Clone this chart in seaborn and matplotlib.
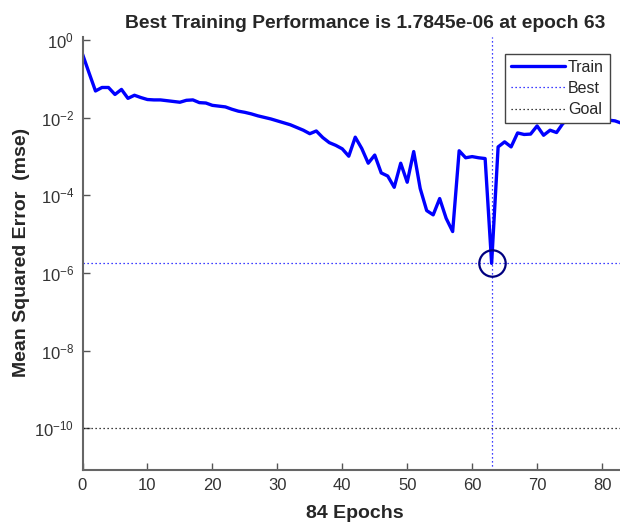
import numpy as np
import pandas as pd
import matplotlib
matplotlib.use("Agg")
import matplotlib.pyplot as plt
import seaborn as sns
from matplotlib.lines import Line2D

# ---- data ----
epochs = list(range(0, 85))
train_log10 = [
    -0.36, -0.84, -1.31, -1.22, -1.22, -1.40, -1.27, -1.50, -1.42, -1.48,
    -1.53, -1.54, -1.54, -1.56, -1.58, -1.60, -1.55, -1.54, -1.61, -1.62,
    -1.68, -1.70, -1.72, -1.78, -1.83, -1.86, -1.90, -1.95, -1.99, -2.03,
    -2.08, -2.13, -2.18, -2.25, -2.32, -2.41, -2.34, -2.51, -2.64, -2.71,
    -2.80, -2.99, -2.50, -2.79, -3.17, -2.96, -3.42, -3.50, -3.79, -3.17,
    -3.66, -2.87, -3.82, -4.39, -4.50, -4.08, -4.59, -4.93, -2.85, -3.03,
    -3.00, -3.03, -3.05, np.log10(1.7845e-06), -2.75, -2.62, -2.75, -2.39, -2.43, -2.42,
    -2.21, -2.45, -2.32, -2.38, -2.14, -2.05, -2.00, -2.02, -2.00, -2.03,
    -2.02, -2.06, -2.08, -2.14, -2.20,
]
train_mse = [10 ** v for v in train_log10]
best_epoch = 63
best_perf = 1.7845e-06
goal = 1e-10
x_ticks = [0, 10, 20, 30, 40, 50, 60, 70, 80]
y_ticks = [1e0, 1e-2, 1e-4, 1e-6, 1e-8, 1e-10]
legend_labels = ["Train", "Best", "Goal"]
title_text = "Best Training Performance is 1.7845e-06 at epoch 63"
xlabel_text = "84 Epochs"
ylabel_text = "Mean Squared Error  (mse)"

df = pd.DataFrame({"epoch": epochs, "mse": train_mse})

sns.set_style("ticks")
plt.rcParams["font.family"] = ["Liberation Sans", "DejaVu Sans"]
plt.rcParams["mathtext.default"] = "regular"

fig = plt.figure(figsize=(6.2, 5.24), dpi=100)
ax = fig.add_axes([82.5 / 620, 54 / 524, 545.5 / 620, 433 / 524])

ax.set_yscale("log")
sns.lineplot(data=df, x="epoch", y="mse", ax=ax, color="#0000ff",
             linewidth=2.4, label=legend_labels[0], legend=False)
dot = (0, (1, 2.2))
ax.axvline(best_epoch, color="#0000ff", linestyle=dot, linewidth=0.9)
ax.axhline(best_perf, color="#0000ff", linestyle=dot, linewidth=0.9)
ax.axhline(goal, color="black", linestyle=dot, linewidth=0.9)
ax.plot([best_epoch], [best_perf], marker="o", markersize=19,
        markerfacecolor="none", markeredgecolor="#000080", markeredgewidth=1.6,
        linestyle="none")

ax.set_xlim(0, 84)
ax.set_ylim(10 ** -11.07, 10 ** 0.08)
ax.set_xticks(x_ticks)
ax.set_yticks(y_ticks)
ax.yaxis.set_minor_locator(matplotlib.ticker.NullLocator())
ax.tick_params(direction="in", length=5, width=1, colors="#555555",
               labelcolor="#333333", labelsize=12, pad=6)

for s in ["top", "right"]:
    ax.spines[s].set_visible(False)
for s in ["left", "bottom"]:
    ax.spines[s].set_color("#666666")
    ax.spines[s].set_linewidth(1.5)

ax.set_xlabel("")
ax.set_ylabel("")
fig.text(355 / 620, 1 - 514 / 524, xlabel_text, ha="center", va="center",
         fontsize=14, fontweight="bold", color="#262626")
fig.text(22 / 620, 1 - 252 / 524, ylabel_text, ha="center", va="center",
         rotation=90, fontsize=14, fontweight="bold", color="#262626")
fig.text(365 / 620, 1 - 24 / 524, title_text, ha="center", va="center",
         fontsize=13.9, fontweight="bold", color="#262626")

handles = [
    Line2D([], [], color="#0000ff", linewidth=2.4),
    Line2D([], [], color="#0000ff", linestyle=dot, linewidth=0.9),
    Line2D([], [], color="black", linestyle=dot, linewidth=0.9),
]
leg = fig.legend(handles, legend_labels, loc="upper left",
                 bbox_to_anchor=(505 / 620, 1 - 54 / 524),
                 fontsize=11.5, frameon=True, fancybox=False, framealpha=1.0,
                 handlelength=3.4, handletextpad=0.2, borderpad=0.35,
                 labelspacing=0.4, borderaxespad=0)
leg.get_frame().set_edgecolor("#444444")
leg.get_frame().set_linewidth(1.0)
leg.get_frame().set_facecolor("white")

fig.savefig("out.png", dpi=100, facecolor="white")
